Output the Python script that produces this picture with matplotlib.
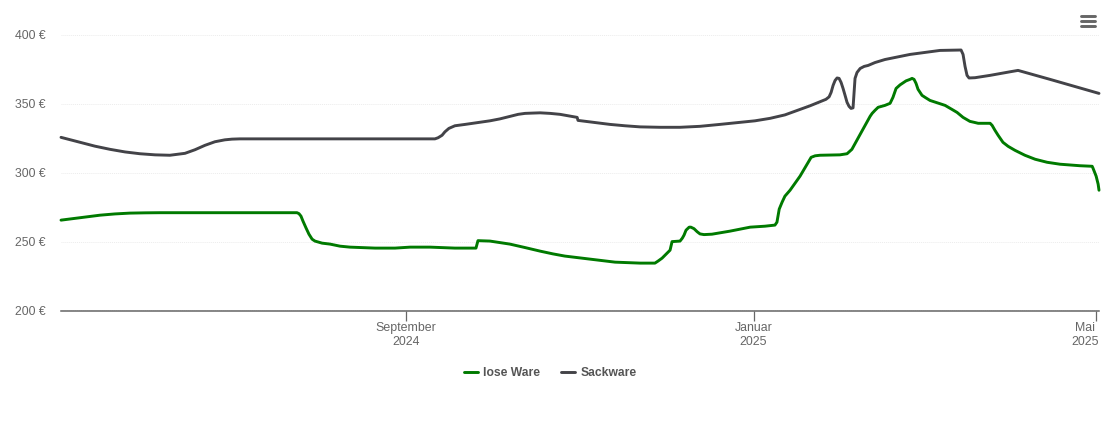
import numpy as np
import pandas as pd
import matplotlib
matplotlib.use("Agg")
import matplotlib.pyplot as plt
import matplotlib.dates as mdates
from matplotlib.lines import Line2D

plt.rcParams['font.family'] = ['Liberation Sans', 'DejaVu Sans']

# --- data: days since start date, price in euro ---
start_date = pd.Timestamp("2024-05-03")

lose_days = [0, 13.7, 18.9, 24.2, 29.5, 34.7, 48.8, 66.3, 82.8, 83.5, 84.2, 84.9, 86, 87, 88.1, 89.1,
             91.6, 94.4, 97.9, 101.4, 110.2, 117.2, 122.5, 129.5, 138.2, 145.6, 146.3, 150.5,
             157.5, 162.8, 168.1, 172.6, 176.8, 185.6, 194.4, 203.2, 206, 208.4, 209.5, 210.9,
             213.7, 214.4, 217.2, 218, 218.6, 219.3, 220.4, 221, 222.1, 223.2, 224.2, 225.6, 228.4,
             234.7, 241.8, 247, 250.5, 251.2, 252, 253, 254, 255.8, 259.3, 263.2, 264.6, 266.3,
             273.3, 275.8, 277.5, 280.4, 283.9, 284.6, 285.6, 286.7, 289.1, 290.9, 291.9, 293,
             294.4, 296.5, 297.9, 298.6, 299.3, 300, 300.7, 302.1, 303.2, 304.9, 310.2, 312.6,
             314.4, 316.5, 318.9, 320.4, 321.8, 326, 326.7, 327.7, 328.8, 330.5, 332.3, 334.7,
             338.2, 341.8, 346, 350.5, 357.5, 361.8, 362.1, 363.2, 363.9, 364.2]
lose_price = [265.6, 269.2, 270.1, 270.7, 270.9, 271, 271, 271, 271, 270.3, 268.5, 264.9, 259.8, 255.4, 251.8, 250.4,
              248.9, 248.2, 246.7, 246, 245.3, 245.3, 246, 246, 245.3, 245.3, 250.7, 250.4,
              248.2, 245.7, 243.1, 241.1, 239.5, 237.3, 235.1, 234.4, 234.4, 234.4, 235.9, 238,
              243.8, 250, 250.4, 252.5, 254.7, 258.3, 260.5, 260.5, 259.4, 257.2, 255.6, 255.1, 255.4,
              257.6, 260.5, 261.2, 262, 264.1, 273.6, 278.6, 283, 287.3, 297.5, 311.2, 312.3, 312.7,
              313, 313.8, 317, 327.9, 341, 343.1, 345.3, 347.5, 348.9, 350.4, 354.7, 361.2,
              363.8, 366.7, 367.8, 368.5, 367.8, 364.9, 360.6, 356.2, 354.7, 352.5, 348.9, 346,
              343.8, 340.2, 337.3, 336.6, 335.9, 335.9, 334.4, 330.8, 327.2, 322.1, 319.2, 316.3,
              312.7, 309.8, 307.6, 306.2, 305.1, 304.7, 303.3, 297.5, 291.7, 287.3]

sack_days = [0, 6.7, 11.9, 17.2, 22.5, 27.7, 33, 38.2, 43.5, 47, 50.5, 54, 57.5, 60, 62.8, 83.9, 118.9,
             131.2, 132.3, 133.7, 134.7, 136.1, 138.2, 141.8, 150.5, 154, 157.5, 160.4, 162.8, 165.3,
             168.1, 171.6, 175.1, 181.1, 181.4, 192.6, 197.9, 203.2, 210.2, 217.2, 224.2, 231.2,
             243.5, 248.8, 254, 262.8, 268.4, 269.5, 270.2, 270.9, 271.6, 272.3, 273, 273.7, 274.4,
             275.1, 275.8, 276.5, 277.2, 277.9, 278.2, 278.6, 279.3, 280.4, 281.8, 283.2, 285.6,
             289.1, 297.9, 308.4, 315.8, 316.5, 317.2, 317.9, 318.6, 320.7, 326, 333, 335.8, 347, 364.2]
sack_price = [325.7, 322.1, 319.3, 317, 315.1, 313.8, 313, 312.7, 314.1, 316.7, 319.9, 322.5, 323.9, 324.4, 324.6, 324.6, 324.6,
              324.6, 325.4, 327.2, 329.7, 332.2, 334.1, 335.1, 337.7, 339.1, 340.9, 342.4, 343.1, 343.3,
              343.5, 343.1, 342.4, 340.2, 338, 335.1, 334.1, 333.3, 333, 333, 333.7, 335.1,
              337.7, 339.5, 342, 348.6, 353.3, 355.1, 358.3, 363.4, 367, 368.8, 368.5, 365.6, 361.2,
              356.2, 351.1, 348.2, 346.7, 347.1, 356.2, 368.5, 372.8, 375.7, 377.2, 377.9, 380,
              382.2, 385.9, 388.8, 389.1, 385.9, 377.2, 370.7, 368.8, 369, 370.7, 373.3, 374.3, 367.8, 357.6]

y_ticks = [200, 250, 300, 350, 400]
x_ticks = ["2024-09-01", "2025-01-01", "2025-05-01"]
x_labels = ["September\n2024", "Januar\n2025", "Mai\n2025"]
series_names = ["lose Ware", "Sackware"]

W, H = 1110, 422
GREEN = "#007a00"
DARK = "#434348"
TEXT = "#666666"

fig = plt.figure(figsize=(W / 100, H / 100), dpi=100)
ax = fig.add_axes([61 / W, 1 - 310.5 / H, 1038 / W, 275.5 / H])

lose_x = start_date + pd.to_timedelta(lose_days, unit="D")
sack_x = start_date + pd.to_timedelta(sack_days, unit="D")
ax.plot(lose_x, lose_price, color=GREEN, lw=2.1, solid_joinstyle="round", solid_capstyle="round", clip_on=False)
ax.plot(sack_x, sack_price, color=DARK, lw=2.1, solid_joinstyle="round", solid_capstyle="round", clip_on=False)

ax.set_xlim(start_date, start_date + pd.Timedelta(days=364.2))
ax.set_ylim(200, 400)

# --- axes ---
for s in ["top", "left", "right"]:
    ax.spines[s].set_visible(False)
ax.spines["bottom"].set_color("#666666")
ax.spines["bottom"].set_linewidth(1.1)
ax.set_axisbelow(True)
ax.grid(axis="y", color="#ececec", lw=0.7, ls=(0, (1, 1)))
ax.set_yticks(y_ticks)
ax.set_yticklabels([f"{v} €" for v in y_ticks], color=TEXT, fontsize=8.8)
ax.tick_params(axis="y", length=0, pad=11)

ticks = [mdates.date2num(pd.Timestamp(d)) for d in x_ticks]
ax.set_xticks(ticks)
ax.set_xticklabels(x_labels, color=TEXT, fontsize=8.9, linespacing=1.32)
ax.tick_params(axis="x", length=7, width=0.9, color="#666666", pad=1)

# last label sits against the right edge of the chart
last = ax.get_xticklabels()[-1]
last.set_transform(last.get_transform() + matplotlib.transforms.ScaledTranslation(-10.5 / 100, 0, fig.dpi_scale_trans))

# --- legend ---
handles = [Line2D([], [], color=GREEN, lw=2.1, solid_capstyle="round"),
           Line2D([], [], color=DARK, lw=2.1, solid_capstyle="round")]
leg = fig.legend(handles, series_names, ncol=2, frameon=False, loc="center",
                 bbox_to_anchor=(550 / W, 1 - 373 / H), handlelength=1.2, handletextpad=0.42,
                 columnspacing=1.7, prop={"size": 8.7, "weight": "bold"})
for t in leg.get_texts():
    t.set_color("#555555")

# --- menu icon ---
for y in [16, 21, 26]:
    fig.add_artist(Line2D([1081 / W, 1095 / W], [1 - y / H, 1 - y / H], color="#666666", lw=2.1,
                          solid_capstyle="round"))

fig.savefig("out.png", dpi=100)
